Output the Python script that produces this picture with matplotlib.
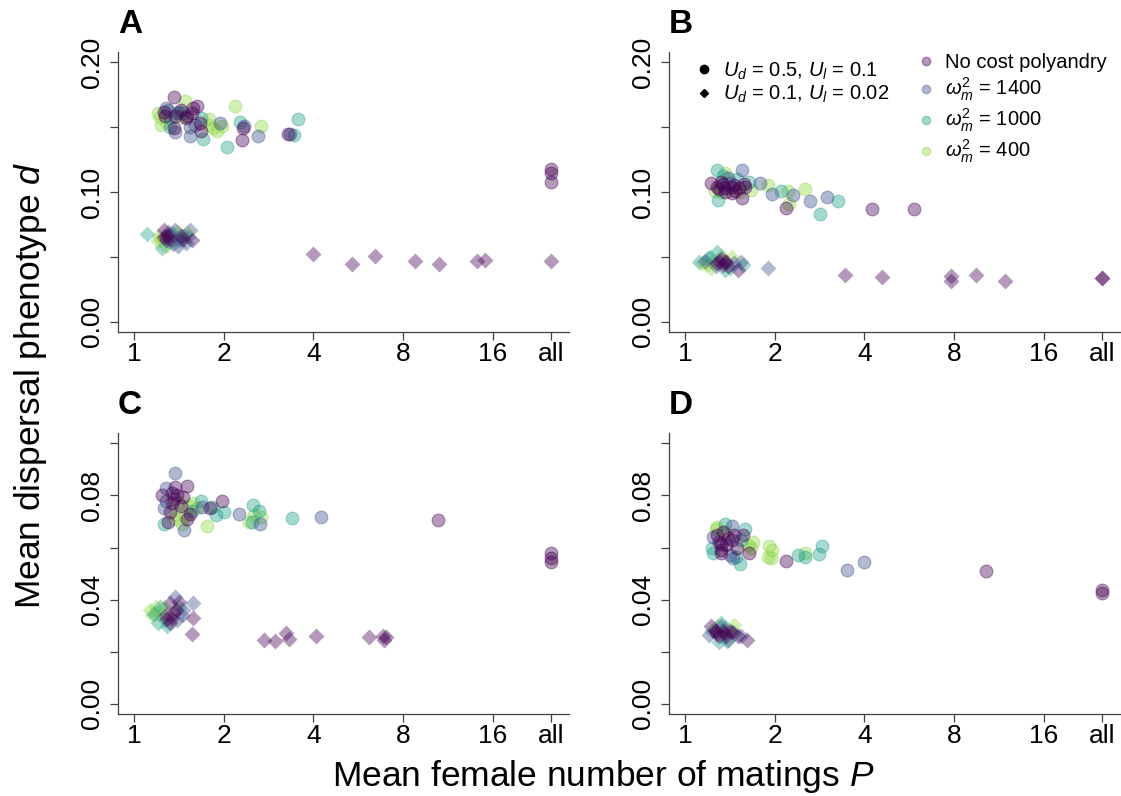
import numpy as np
import matplotlib.pyplot as plt
from matplotlib.lines import Line2D

plt.rcParams['font.family'] = 'Liberation Sans'
plt.rcParams['mathtext.fontset'] = 'custom'
plt.rcParams['mathtext.rm'] = 'Liberation Sans'
plt.rcParams['mathtext.it'] = 'Liberation Sans:italic'

# groups: 0 = no cost polyandry, 1 = w2=1400, 2 = w2=1000, 3 = w2=400
GROUP_LABELS = ['No cost polyandry', r'$\omega_m^2$ = 1400',
                r'$\omega_m^2$ = 1000', r'$\omega_m^2$ = 400']
COLORS = ['#440154', '#3B528B', '#22A08A', '#8FD744']

ALL_X = 4.65  # log2 position of the "all" column
X_TICKS = [0, 1, 2, 3, 4, ALL_X]
X_LABELS = ['1', '2', '4', '8', '16', 'all']

# x values are log2(mean number of matings P)
# ---- panel A ----
a_circ_x = [0.44, 0.33, 0.27, 0.38, 0.46, 0.57, 0.70, 0.66, 0.59, 0.55, 0.36, 0.40,
            0.44, 0.45, 0.62, 0.62, 0.74, 0.77, 0.83, 0.83, 0.92, 0.96, 0.98, 1.03,
            1.13, 1.18, 1.21, 1.22, 1.20, 1.38, 1.41, 1.72, 1.78, 1.83, 1.74, 0.50,
            0.52, 0.68, 0.75, 0.35, 0.34, 0.52, 0.58, 0.65, 0.29, 0.30, 0.40, 0.48,
            0.88, 0.73, ALL_X, ALL_X, ALL_X]
a_circ_y = [0.1736, 0.162, 0.161, 0.163, 0.159, 0.170, 0.166, 0.165, 0.159, 0.161, 0.154, 0.157,
            0.149, 0.146, 0.143, 0.150, 0.147, 0.141, 0.152, 0.156, 0.147, 0.153, 0.151, 0.135,
            0.166, 0.154, 0.149, 0.151, 0.140, 0.1435, 0.151, 0.145, 0.144, 0.156, 0.145, 0.162,
            0.158, 0.152, 0.157, 0.165, 0.159, 0.163, 0.157, 0.161, 0.158, 0.152, 0.150, 0.161,
            0.149, 0.153, 0.118, 0.1145, 0.108]
a_circ_g = [0, 0, 3, 1, 0, 3, 0, 0, 0, 2, 3, 2,
            0, 1, 1, 1, 0, 2, 3, 3, 3, 1, 3, 2,
            3, 2, 0, 1, 0, 1, 3, 0, 2, 2, 1, 2,
            3, 1, 2, 1, 0, 0, 0, 0, 3, 3, 2, 1,
            3, 0, 0, 0, 0]

a_diam_x = [0.14, 0.33, 0.30, 0.40, 0.46, 0.51, 0.49, 0.59, 0.62, 0.64, 0.55, 0.36, 0.31,
            0.36, 0.40, 0.28, 0.42, 0.56, 0.38, 0.33, 0.38, 0.35, 0.52, 0.45, 0.27, 0.58,
            0.48, 0.43, 0.60, 1.99, 2.43, 2.69, 3.13, 3.40, 3.82, 3.91, ALL_X]
a_diam_y = [0.0675, 0.071, 0.063, 0.062, 0.071, 0.063, 0.058, 0.068, 0.071, 0.063, 0.064, 0.058, 0.057,
            0.066, 0.064, 0.066, 0.068, 0.066, 0.069, 0.065, 0.067, 0.063, 0.066, 0.064, 0.062, 0.061,
            0.069, 0.060, 0.065, 0.0524, 0.0444, 0.0508, 0.047, 0.0444, 0.0465, 0.0472, 0.0465]
a_diam_g = [2, 0, 3, 2, 1, 1, 1, 3, 1, 0, 0, 3, 2,
            0, 0, 3, 2, 2, 1, 0, 0, 0, 0, 2, 3, 1,
            3, 1, 2, 0, 0, 0, 0, 0, 0, 0, 0]

# ---- panel B ----
b_circ_x = [0.29, 0.35, 0.36, 0.40, 0.37, 0.44, 0.48, 0.52, 0.55, 0.63, 0.63, 0.67, 0.71,
            0.74, 0.84, 0.92, 0.97, 1.07, 1.15, 1.20, 1.13, 1.16, 1.34, 1.39, 1.50, 1.58,
            1.70, 2.08, 2.55, 0.40, 0.45, 0.33, 0.58, 0.50, 0.60, 0.42, 0.38, 0.45, 0.52,
            0.60, 0.66, 0.42, 0.56]
b_circ_y = [0.107, 0.1166, 0.104, 0.100, 0.094, 0.1145, 0.111, 0.099, 0.1055, 0.1166, 0.095, 0.104, 0.108,
            0.1017, 0.107, 0.1055, 0.0986, 0.101, 0.1004, 0.098, 0.0875, 0.091, 0.102, 0.0927, 0.083, 0.096,
            0.0927, 0.087, 0.0868, 0.108, 0.103, 0.101, 0.110, 0.107, 0.100, 0.112, 0.102, 0.100, 0.104,
            0.103, 0.106, 0.106, 0.101]
b_circ_g = [0, 2, 0, 3, 2, 3, 1, 0, 0, 1, 0, 0, 2,
            3, 1, 3, 1, 2, 3, 1, 0, 3, 3, 1, 2, 1,
            2, 0, 0, 0, 0, 3, 2, 1, 3, 2, 0, 0, 0,
            0, 0, 0, 0]

b_diam_x = [0.19, 0.25, 0.36, 0.29, 0.44, 0.59, 0.65, 0.52, 0.36, 0.44, 0.40, 0.22, 0.31,
            0.55, 0.48, 0.38, 0.42, 0.46, 0.34, 0.28, 0.50, 0.62, 0.24, 0.16, 0.40,
            0.92, 1.78, 2.19, 2.96, 2.96, 3.24, 3.57, ALL_X, ALL_X]
b_diam_y = [0.045, 0.049, 0.054, 0.041, 0.040, 0.040, 0.044, 0.050, 0.045, 0.0465, 0.048, 0.047, 0.046,
            0.045, 0.043, 0.047, 0.044, 0.046, 0.043, 0.050, 0.041, 0.046, 0.044, 0.046, 0.051,
            0.0413, 0.0362, 0.0341, 0.0349, 0.0311, 0.0362, 0.0311, 0.0336, 0.0336]
b_diam_g = [3, 2, 2, 3, 2, 0, 2, 3, 0, 0, 0, 1, 3,
            1, 0, 0, 0, 0, 1, 2, 2, 1, 3, 2, 3,
            1, 0, 0, 0, 0, 0, 0, 0, 0]

# ---- panel C ----
c_circ_x = [0.46, 0.31, 0.35, 0.46, 0.59, 0.44, 0.55, 0.33, 0.40, 0.47, 0.62, 0.59, 0.38,
            0.33, 0.56, 0.53, 0.66, 0.74, 0.76, 0.85, 0.87, 0.81, 0.91, 0.98, 1.00, 1.17,
            1.33, 1.39, 1.31, 1.34, 1.41, 1.40, 1.28, 1.76, 2.08, 3.39, 0.50, 0.60, 0.42,
            0.42, 0.48, 0.52, 0.36, 0.45, 0.64, 0.70, 0.57, ALL_X, ALL_X, ALL_X]
c_circ_y = [0.0887, 0.0801, 0.0827, 0.0833, 0.0836, 0.0788, 0.0795, 0.075, 0.0737, 0.073, 0.073, 0.071, 0.0699,
            0.069, 0.0667, 0.0692, 0.077, 0.078, 0.0756, 0.075, 0.0756, 0.0683, 0.0724, 0.078, 0.0737, 0.0727,
            0.0763, 0.0741, 0.0699, 0.0724, 0.0718, 0.069, 0.0699, 0.0712, 0.0718, 0.0705, 0.077, 0.076, 0.081,
            0.077, 0.080, 0.076, 0.078, 0.071, 0.074, 0.075, 0.072, 0.058, 0.0558, 0.0545]
c_circ_g = [1, 0, 1, 0, 0, 0, 0, 1, 0, 3, 0, 0, 0,
            2, 1, 3, 3, 2, 1, 0, 2, 3, 2, 0, 2, 1,
            2, 2, 2, 3, 3, 1, 3, 2, 1, 0, 3, 3, 0,
            0, 0, 0, 1, 3, 2, 3, 3, 0, 0, 0]

c_diam_x = [0.18, 0.24, 0.27, 0.37, 0.37, 0.46, 0.66, 0.66, 0.64, 0.40, 0.47, 0.53, 0.33,
            0.22, 0.30, 0.42, 0.50, 0.36, 0.40, 0.44, 0.26, 0.20, 0.34, 0.48, 0.55, 0.29,
            0.50, 1.45, 1.57, 1.69, 1.73, 2.03, 2.62, 2.77, 2.79, 2.81]
c_diam_y = [0.036, 0.037, 0.031, 0.030, 0.0327, 0.041, 0.0387, 0.033, 0.0267, 0.0385, 0.036, 0.034, 0.037,
            0.0346, 0.035, 0.033, 0.037, 0.034, 0.031, 0.035, 0.035, 0.034, 0.032, 0.032, 0.036, 0.037,
            0.039, 0.0246, 0.024, 0.0273, 0.025, 0.026, 0.0256, 0.026, 0.0246, 0.0256]
c_diam_g = [3, 3, 2, 2, 0, 1, 1, 0, 0, 0, 0, 1, 3,
            2, 3, 0, 2, 0, 0, 0, 3, 3, 2, 1, 1, 2,
            0, 0, 0, 0, 0, 0, 0, 0, 0, 0]

# ---- panel D ----
d_circ_x = [0.31, 0.36, 0.44, 0.52, 0.36, 0.40, 0.48, 0.55, 0.67, 0.65, 0.31, 0.40, 0.53,
            0.61, 0.57, 0.71, 0.76, 0.74, 0.93, 0.97, 0.92, 0.96, 1.13, 1.26, 1.34, 1.34,
            1.49, 1.53, 1.81, 1.99, 3.36, 0.38, 0.42, 0.46, 0.52, 0.58, 0.40, 0.34, 0.44,
            0.62, 0.50, 0.30, 0.70, ALL_X, ALL_X]
d_circ_y = [0.0641, 0.0679, 0.0692, 0.0682, 0.0647, 0.0615, 0.0636, 0.0649, 0.0673, 0.0647, 0.0577, 0.0577, 0.0558,
            0.0538, 0.0565, 0.0578, 0.0622, 0.0597, 0.0606, 0.059, 0.0565, 0.0559, 0.055, 0.0572, 0.0578, 0.0565,
            0.0576, 0.0606, 0.0515, 0.0544, 0.051, 0.062, 0.066, 0.061, 0.063, 0.060, 0.059, 0.067, 0.066,
            0.063, 0.057, 0.060, 0.061, 0.0436, 0.0427]
d_circ_g = [1, 3, 2, 1, 0, 0, 0, 0, 2, 0, 2, 0, 1,
            2, 2, 0, 3, 3, 3, 3, 3, 3, 0, 2, 3, 2,
            2, 2, 1, 1, 0, 0, 0, 0, 0, 0, 0, 3, 3,
            2, 1, 2, 3, 0, 0]

d_diam_x = [0.29, 0.36, 0.44, 0.52, 0.59, 0.69, 0.38, 0.48, 0.27, 0.55, 0.40, 0.45, 0.33,
            0.34, 0.38, 0.42, 0.46, 0.50, 0.40, 0.30, 0.55, 0.47, 0.36, 0.62]
d_diam_y = [0.030, 0.0269, 0.029, 0.0277, 0.0258, 0.0245, 0.0237, 0.0245, 0.0263, 0.0301, 0.0308, 0.027, 0.028,
            0.028, 0.026, 0.028, 0.026, 0.028, 0.030, 0.028, 0.027, 0.024, 0.030, 0.026]
d_diam_g = [0, 0, 2, 0, 0, 0, 2, 1, 1, 3, 2, 0, 0,
            0, 0, 0, 0, 0, 1, 2, 2, 2, 3, 1]


def draw_points(ax, xs, ys, gs, marker, size):
    xs, ys, gs = np.asarray(xs), np.asarray(ys), np.asarray(gs)
    for g in [3, 2, 1, 0]:
        m = gs == g
        ax.scatter(xs[m], ys[m], s=size, marker=marker, color=COLORS[g], alpha=0.4,
                   edgecolors=COLORS[g], linewidths=0.8 if marker == 'o' else 0, zorder=3)


def style_axes(ax, letter, yticks, ylabels, ylim):
    ax.set_xlim(-0.18, 4.85)
    ax.set_ylim(*ylim)
    ax.set_xticks(X_TICKS, X_LABELS)
    ax.set_yticks(yticks, ylabels)
    for s in ['top', 'right']:
        ax.spines[s].set_visible(False)
    for s in ['left', 'bottom']:
        ax.spines[s].set_color('#404040')
        ax.spines[s].set_linewidth(0.9)
    ax.tick_params(axis='both', length=6, width=0.9, color='#404040', labelsize=19)
    ax.tick_params(axis='x', pad=1)
    ax.tick_params(axis='y', pad=4, labelrotation=90)
    for lab in ax.get_yticklabels():
        lab.set_va('center')
    ax.set_title(letter, loc='left', fontsize=24, fontweight='bold', pad=14)


fig = plt.figure(figsize=(11.21, 7.96), dpi=100)
ax_a = fig.add_axes([0.1053, 0.5829, 0.4023, 0.3518])
ax_b = fig.add_axes([0.5968, 0.5829, 0.4023, 0.3518])
ax_c = fig.add_axes([0.1053, 0.1030, 0.4023, 0.3530])
ax_d = fig.add_axes([0.5968, 0.1030, 0.4023, 0.3530])

top_ticks = [0, 0.05, 0.10, 0.15, 0.20]
top_labels = ['0.00', '', '0.10', '', '0.20']
bot_ticks = [0, 0.02, 0.04, 0.06, 0.08, 0.10]
bot_labels = ['0.00', '', '0.04', '', '0.08', '']

panels = [
    (ax_a, 'A', a_circ_x, a_circ_y, a_circ_g, a_diam_x, a_diam_y, a_diam_g, top_ticks, top_labels, (-0.008, 0.208)),
    (ax_b, 'B', b_circ_x, b_circ_y, b_circ_g, b_diam_x, b_diam_y, b_diam_g, top_ticks, top_labels, (-0.008, 0.208)),
    (ax_c, 'C', c_circ_x, c_circ_y, c_circ_g, c_diam_x, c_diam_y, c_diam_g, bot_ticks, bot_labels, (-0.004, 0.104)),
    (ax_d, 'D', d_circ_x, d_circ_y, d_circ_g, d_diam_x, d_diam_y, d_diam_g, bot_ticks, bot_labels, (-0.004, 0.104)),
]
for ax, letter, cx, cy, cg, dx, dy, dg, yt, yl, ylim in panels:
    draw_points(ax, cx, cy, cg, 'o', 85)
    draw_points(ax, dx, dy, dg, 'D', 66)
    style_axes(ax, letter, yt, yl, ylim)

# legends in panel B
shape_handles = [Line2D([], [], marker='o', color='black', linestyle='none', markersize=6),
                 Line2D([], [], marker='D', color='black', linestyle='none', markersize=4)]
leg1 = ax_b.legend(shape_handles, [r'$U_d$ = 0.5, $U_l$ = 0.1', r'$U_d$ = 0.1, $U_l$ = 0.02'],
                   loc='upper left', bbox_to_anchor=(0.055, 0.97), frameon=False, fontsize=14.5,
                   handlelength=1.0, handletextpad=0.45, borderpad=0, borderaxespad=0, labelspacing=0.1)
ax_b.add_artist(leg1)
group_handles = [Line2D([], [], marker='o', color=c, alpha=0.4, linestyle='none', markersize=6)
                 for c in COLORS]
ax_b.legend(group_handles, GROUP_LABELS, loc='upper left', bbox_to_anchor=(0.547, 0.995),
            frameon=False, fontsize=14.5, handlelength=1.0, handletextpad=0.45, borderpad=0,
            borderaxespad=0, labelspacing=0.18)

fig.text(0.027, 0.516, 'Mean dispersal phenotype $d$', rotation=90, ha='center', va='center', fontsize=25.5)
fig.text(0.538, 0.025, 'Mean female number of matings $P$', ha='center', va='center', fontsize=25.5)

fig.savefig('out.png', dpi=100)
